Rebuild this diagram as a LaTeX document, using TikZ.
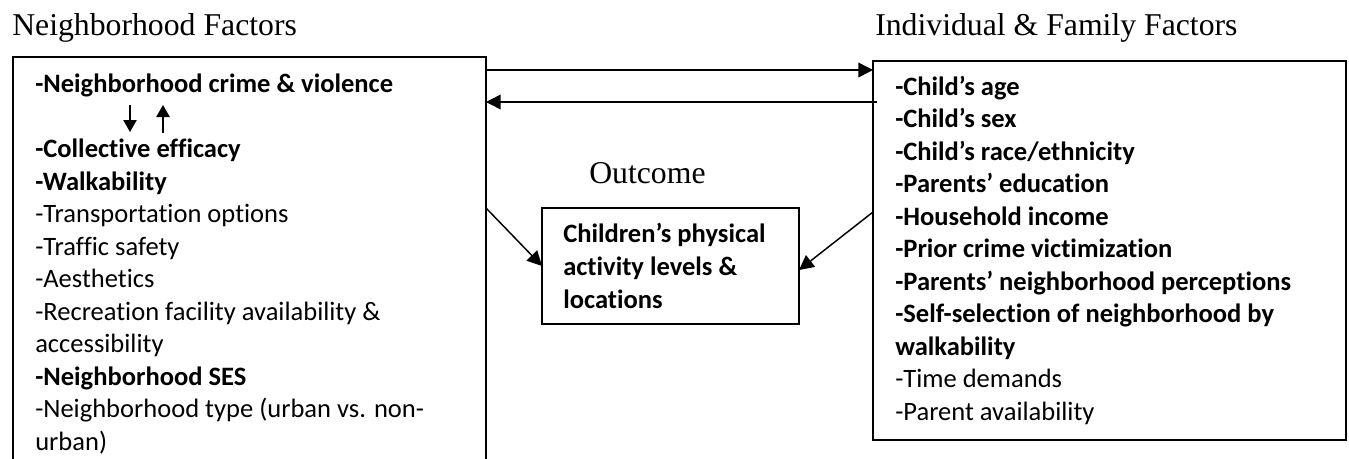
\documentclass[tikz,border=0pt]{standalone}
\usepackage{fontspec}
\setmainfont{Carlito}[Ligatures=NoCommon]
\newfontfamily\tnrfont{Liberation Serif}
\usetikzlibrary{arrows.meta}
\newcommand\mybodyfont{\fontsize{19.9}{24.4}\selectfont}
\newcommand\mytitlefont{\tnrfont\fontsize{23.8}{28}\selectfont}
\begin{document}
\begin{tikzpicture}[x=0.75pt,y=-0.75pt,
  boxst/.style={draw=black,line width=1.5pt,inner sep=0pt,outer sep=0pt,anchor=north west},
  txtst/.style={font=\mybodyfont,align=left,inner sep=0pt,anchor=base west},
  ttlst/.style={font=\mytitlefont,inner sep=0pt,anchor=base west},
  arr/.style={line width=1.1pt,-{Triangle[length=11pt,width=11pt]}},
  sarr/.style={line width=1.1pt,-{Triangle[length=9pt,width=10pt]}}]
\useasboundingbox (0,0) rectangle (1349,458);
\clip (0,0) rectangle (1349,458);
% titles
\node[ttlst] (tn) at (12,35) {Neighborhood Factors};
\node[ttlst] (tf) at (875,35) {Individual \& Family Factors};
\node[ttlst] (to) at (589,183) {Outcome};
% boxes
\node[boxst,minimum width=473*0.75pt,minimum height=430*0.75pt] (nbox) at (13,57) {};
\node[boxst,minimum width=473*0.75pt,minimum height=379*0.75pt] (fbox) at (873,61) {};
\node[boxst,minimum width=257*0.75pt,minimum height=116*0.75pt] (obox) at (542,208) {};
% texts (anchored at the baseline of their last line)
\node[txtst] (ntxt) at (35,450.5) {\textbf{-Neighborhood crime \& violence}\\ \mbox{}\\
\textbf{-Collective efficacy}\\
\textbf{-Walkability}\\
-Transportation options\\
-Traffic safety\\
-Aesthetics\\
-Recreation facility availability \&\\
accessibility\\
\textbf{-Neighborhood SES}\\
-Neighborhood type (urban vs. non-\\
urban)};
\node[txtst] (ftxt) at (895,420.5) {\textbf{-Child’s age}\\
\textbf{-Child’s sex}\\
\textbf{-Child’s race/ethnicity}\\
\textbf{-Parents’ education}\\
\textbf{-Household income}\\
\textbf{-Prior crime victimization}\\
\textbf{-Parents’ neighborhood perceptions}\\
\textbf{-Self-selection of neighborhood by}\\
\textbf{walkability}\\
-Time demands\\
-Parent availability};
\node[txtst] (otxt) at (563,308) {\textbf{Children’s physical}\\
\textbf{activity levels \&}\\
\textbf{locations}};
% connectors
\coordinate (r1) at (0,70);
\coordinate (r2) at (0,102);
\coordinate (r3) at (0,208);
\coordinate (r4) at (0,212);
\draw[arr] (nbox.east |- r1) -- (fbox.west |- r1);
\draw[arr] ([xshift=3pt]fbox.west |- r2) -- (nbox.east |- r2);
\draw[arr] (nbox.east |- r3) -- (obox.west);
\draw[arr] (fbox.west |- r4) -- ([yshift=-3pt]obox.east);
\coordinate (d1) at (130,105);
\coordinate (d2) at (130,132);
\coordinate (u1) at (163,133);
\coordinate (u2) at (163,105);
\draw[sarr] (d1) -- (d2);
\draw[sarr] (u1) -- (u2);
\end{tikzpicture}
\end{document}
